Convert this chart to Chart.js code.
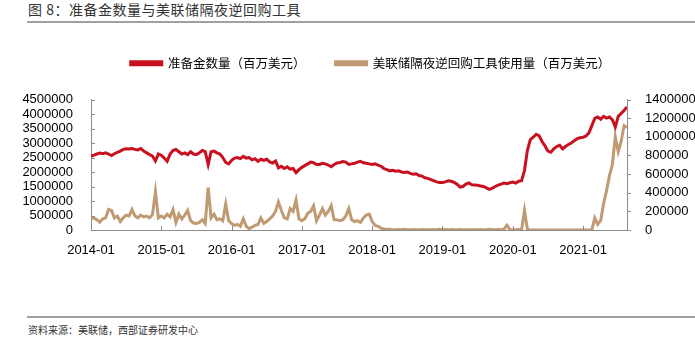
<!DOCTYPE html>
<html>
<head>
<meta charset="utf-8">
<script src="https://cdn.jsdelivr.net/npm/chart.js@4.4.1/dist/chart.umd.min.js"></script>
<style>
  html, body { margin: 0; padding: 0; background: #fff; }
  body { width: 695px; height: 340px; position: relative; overflow: hidden; font-family: 'Noto Sans CJK SC', sans-serif; }
  #title { position: absolute; left: 28px; top: 0px; font-size: 14px; line-height: 18px; color: #333; letter-spacing: 0.5px; }
  .rule { position: absolute; left: 27px; width: 668px; height: 2px; background: #a0a0a0; }
  #source { position: absolute; left: 28px; top: 323px; font-size: 10px; line-height: 13px; color: #333; }
  #chartBox { position: absolute; left: 0; top: 27px; width: 695px; height: 228px; }
</style>
</head>
<body>
<div id="title">图 8：准备金数量与美联储隔夜逆回购工具</div>
<div class="rule" style="top:21px"></div>
<div id="chartBox"><canvas id="reserveChart"></canvas></div>
<div class="rule" style="top:316px"></div>
<div id="source">资料来源：美联储，西部证券研发中心</div>
<script>
// Semi-monthly readings, 2014-01 .. 2021-08 (values in 十亿美元, plotted as 百万美元)
const START_YEAR = 2014;
const yearLabels = ['2014-01', '2015-01', '2016-01', '2017-01', '2018-01', '2019-01', '2020-01', '2021-01'];
const seriesNames = ['准备金数量（百万美元）', '美联储隔夜逆回购工具使用量（百万美元）'];

const reserves = [
    // 2014
    2540, 2580, 2620, 2650, 2630, 2660, 2620, 2570, 2630, 2680, 2720, 2780,
    2800, 2790, 2810, 2780, 2760, 2810, 2720, 2660, 2600, 2550, 2380, 2620,
    // 2015
    2580, 2480, 2370, 2620, 2740, 2780, 2700, 2620, 2660, 2600, 2700, 2620,
    2600, 2660, 2740, 2700, 2260, 2700, 2720, 2660, 2620, 2500, 2330, 2280,
    // 2016
    2400, 2480, 2500, 2460, 2540, 2480, 2500, 2420, 2460, 2370, 2440, 2400,
    2440, 2350, 2310, 2380, 2140, 2200, 2120, 2180, 2100, 2120, 1980, 2080,
    // 2017
    2160, 2220, 2280, 2340, 2320, 2260, 2260, 2300, 2280, 2240, 2180, 2260,
    2310, 2330, 2360, 2340, 2260, 2280, 2300, 2340, 2370, 2320, 2300, 2280,
    // 2018
    2260, 2280, 2240, 2200, 2120, 2080, 2040, 2060, 2030, 2040, 2000, 1980,
    2000, 1950, 1920, 1940, 1880, 1860, 1800, 1780, 1740, 1700, 1660, 1640,
    // 2019
    1640, 1660, 1700, 1680, 1640, 1580, 1480, 1500, 1580, 1620, 1560, 1550,
    1540, 1520, 1500, 1450, 1400, 1440, 1500, 1550, 1580, 1620, 1600, 1630,
    // 2020
    1650, 1620, 1680, 1700, 2050, 2750, 3120, 3200, 3300, 3250, 3050, 2900,
    2720, 2680, 2800, 2880, 2920, 2800, 2880, 2950, 3000, 3080, 3150, 3180,
    // 2021
    3200, 3240, 3350, 3600, 3850, 3900, 3820, 3920, 3860, 3900, 3800, 3550,
    3920, 4020, 4120, 4240
];

const reverseRepo = [
    // 2014
    120, 130, 110, 85, 120, 130, 220, 210, 130, 150, 90, 130,
    160, 150, 220, 150, 130, 160, 140, 150, 130, 165, 410, 130,
    // 2015
    150, 130, 170, 140, 220, 80, 170, 120, 160, 210, 100, 75,
    70, 80, 110, 70, 455, 130, 170, 110, 120, 100, 280, 100,
    // 2016
    70, 50, 60, 40, 120, 40, 15, 30, 50, 60, 130, 70,
    90, 120, 150, 200, 300, 210, 130, 120, 230, 200, 320, 120,
    // 2017
    100, 120, 180, 200, 260, 100, 160, 230, 160, 200, 260, 110,
    110, 100, 110, 150, 230, 110, 90, 100, 80, 130, 160, 170,
    // 2018
    90, 50, 40, 20, 10, 5, 8, 3, 2, 5, 2, 8,
    3, 2, 4, 2, 3, 6, 2, 3, 2, 5, 2, 8,
    // 2019
    3, 5, 2, 4, 2, 3, 6, 2, 3, 2, 4, 3,
    2, 5, 2, 3, 8, 4, 2, 6, 3, 10, 50, 5,
    // 2020
    3, 2, 5, 1, 210, 5, 1, 0, 1, 0, 1, 0,
    0, 1, 0, 0, 1, 0, 0, 1, 0, 0, 1, 0,
    // 2021
    0, 1, 0, 1, 130, 60, 100, 280, 420, 580, 700, 1000,
    840, 950, 1120, 1100
];

const AXIS_GREY = '#8c8c8c';
const TICK_FONT = { family: "'Liberation Sans', Arial, sans-serif", size: 13, lineHeight: 1 };

function toPoints(values) {
    return values.map((v, i) => ({ x: START_YEAR + i / 24, y: v * 1000 }));
}

// leave room between the legend and the plot, and nudge the legend to the right
const legendGap = {
    id: 'legendGap',
    beforeInit(chart) {
        const fit = chart.legend.fit;
        chart.legend.fit = function () {
            fit.call(this);
            this.height += 20;
        };
    },
    afterLayout(chart) {
        chart.legend.left += 46;
    }
};

// short tick marks: left and bottom point inward, right points outward
const tickMarks = {
    id: 'tickMarks',
    afterDraw(chart) {
        const ctx = chart.ctx;
        const area = chart.chartArea;
        const xs = chart.scales.x, yl = chart.scales.y, yr = chart.scales.y1;
        ctx.save();
        ctx.strokeStyle = AXIS_GREY;
        ctx.lineWidth = 1;
        ctx.beginPath();
        xs.ticks.forEach(t => {
            const px = Math.round(xs.getPixelForValue(t.value)) + 0.5;
            ctx.moveTo(px, area.bottom);
            ctx.lineTo(px, area.bottom - 4);
        });
        yl.ticks.forEach(t => {
            const py = Math.round(yl.getPixelForValue(t.value)) + 0.5;
            ctx.moveTo(area.left, py);
            ctx.lineTo(area.left + 4, py);
        });
        yr.ticks.forEach(t => {
            const py = Math.round(yr.getPixelForValue(t.value)) + 0.5;
            ctx.moveTo(area.right, py);
            ctx.lineTo(area.right + 4, py);
        });
        ctx.stroke();
        ctx.restore();
    }
};

new Chart(document.getElementById('reserveChart'), {
    type: 'line',
    data: {
        datasets: [
            {
                label: seriesNames[0],
                data: toPoints(reserves),
                borderColor: '#C8101E',
                backgroundColor: '#C8101E',
                borderWidth: 3,
                pointRadius: 0,
                yAxisID: 'y'
            },
            {
                label: seriesNames[1],
                data: toPoints(reverseRepo),
                borderColor: '#BF9A72',
                backgroundColor: '#BF9A72',
                borderWidth: 3,
                pointRadius: 0,
                yAxisID: 'y1'
            }
        ]
    },
    options: {
        responsive: true,
        maintainAspectRatio: false,
        animation: false,
        layout: { padding: 0 },
        plugins: {
            legend: {
                position: 'top',
                labels: {
                    boxWidth: 31,
                    boxHeight: 3,
                    padding: 30,
                    color: '#000',
                    font: { family: "'Noto Sans CJK SC', sans-serif", size: 12.5 }
                }
            },
            tooltip: { enabled: false }
        },
        scales: {
            x: {
                type: 'linear',
                min: START_YEAR,
                max: START_YEAR + (reserves.length - 1) / 24,
                grid: { display: false },
                border: { display: true, color: AXIS_GREY },
                ticks: {
                    stepSize: 1,
                    includeBounds: false,
                    autoSkip: false,
                    maxRotation: 0,
                    padding: 6,
                    color: '#000',
                    font: TICK_FONT,
                    callback: v => yearLabels[Math.round(v) - START_YEAR]
                },
                afterFit: s => { s.height = 25; }
            },
            y: {
                position: 'left',
                min: 0,
                max: 4500000,
                grid: { display: false },
                border: { display: true, color: AXIS_GREY },
                ticks: {
                    stepSize: 500000, autoSkip: false, padding: 10,
                    color: '#000', font: TICK_FONT, callback: v => String(v)
                },
                afterFit: s => { s.width = 91; }
            },
            y1: {
                position: 'right',
                min: 0,
                max: 1400000,
                grid: { display: false },
                border: { display: true, color: AXIS_GREY },
                ticks: {
                    stepSize: 200000, autoSkip: false, padding: 10,
                    color: '#000', font: TICK_FONT, callback: v => String(v)
                },
                afterFit: s => { s.width = 68; }
            }
        }
    },
    plugins: [legendGap, tickMarks]
});
</script>
</body>
</html>
